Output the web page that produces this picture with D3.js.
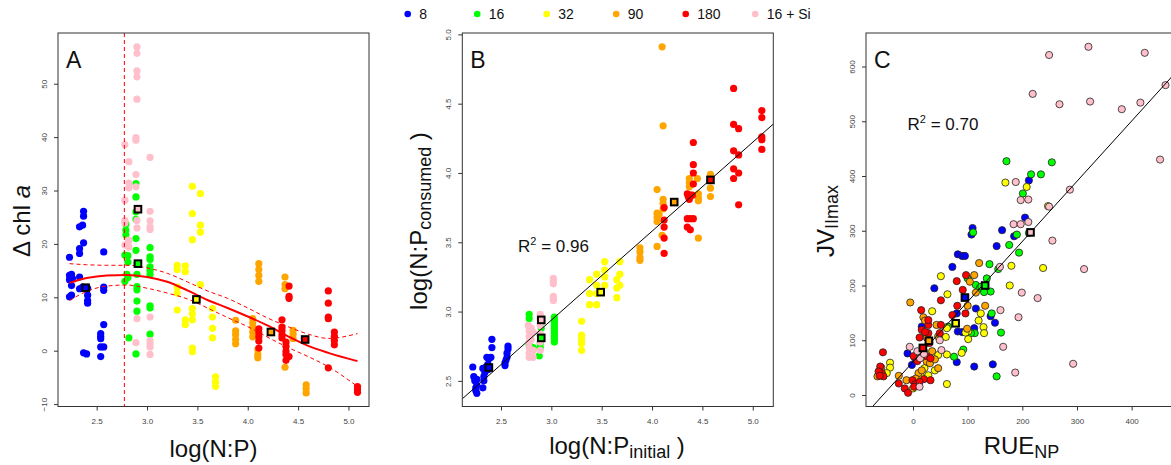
<!DOCTYPE html>
<meta charset="utf-8">
<style>
body { margin: 0; background: #fff; }
svg { font-family: "Liberation Sans", Arial, Helvetica, sans-serif; }
.tick text { fill: #444; font-size: 8px; }
.tick line { stroke: #333; }
</style>
<script src="https://d3js.org/d3.v7.min.js"></script>
<body>
<script>

var width = 1171,
    height = 465;

// treatments, in legend order
var groups = ["8", "16", "32", "90", "180", "16 + Si"];
var colors = ["#0000ff", "#00ff00", "#ffff00", "#ffa500", "#ff0000", "#ffc0cb"];

// ---- panel A : log(N:P) vs delta chl a
var aBlue = [[2.23,17.5],[2.23,14.1],[2.24,13.8],[2.25,14.3],[2.26,13.5],[2.23,13.3],[2.25,12.2],[2.23,10.1],[2.25,10.4],
  [2.33,23.2],[2.36,23.5],[2.37,26.1],[2.37,25.2],[2.37,20.2],[2.33,19.1],[2.33,18.2],[2.33,13.8],[2.33,11.6],[2.36,11.9],
  [2.41,11.7],[2.41,10.4],[2.41,9.4],[2.41,8.9],[2.37,-0.4],[2.40,-0.6],
  [2.57,18.5],[2.57,11.9],[2.57,11.3],[2.57,4.9],[2.54,3.2],[2.54,2.7],[2.54,2.25],[2.54,0.7],[2.57,0.7],[2.54,-1.1]];
var aGreen = [[2.79,23.7],[2.79,22.6],[2.79,21.7],[2.78,17.9],[2.81,17.8],[2.81,16.6],[2.78,13.0],[2.81,13.7],[2.80,14.3],[2.82,2.4],
  [2.89,31.3],[2.89,28.8],[2.89,26.0],[2.89,24.6],[2.89,21.0],[2.89,18.8],[2.90,16.3],[2.90,14.3],[2.90,12.0],[2.90,11.4],[2.90,9.3],[2.90,7.4],[2.89,-0.6],
  [3.03,19.3],[3.03,17.6],[3.03,17.1],[3.03,15.7],[3.03,15.0],[3.03,14.3],[3.03,8.4],[3.03,8.0],[3.03,3.1]];
var aYellow = [[3.30,16.0],[3.30,15.2],[3.30,11.9],[3.30,10.8],[3.30,7.6],
  [3.38,15.9],[3.38,14.8],[3.38,5.8],[3.38,4.9],
  [3.45,30.8],[3.45,25.7],[3.45,20.8],[3.45,7.9],[3.45,6.9],[3.45,5.8],[3.45,0.5],[3.45,-0.2],
  [3.53,29.4],[3.53,23.5],[3.53,22.2],[3.53,12.4],
  [3.65,7.9],[3.65,6.3],[3.65,4.2],[3.65,2.4],
  [3.68,-4.9],[3.68,-5.9],[3.68,-6.7]];
var aOrange = [[3.88,5.7],[3.88,3.7],[3.88,3.0],[3.88,2.1],[3.88,1.3],
  [4.05,6.0],[4.05,5.2],[4.05,4.4],[4.05,3.5],[4.05,2.6],
  [4.10,0.2],[4.10,-0.7],[4.10,-1.3],
  [4.11,16.3],[4.11,15.2],[4.11,14.1],[4.11,13.0],
  [4.37,13.8],[4.37,12.4],[4.37,11.6],[4.37,-3.1],
  [4.45,3.8],[4.45,3.1],[4.45,2.3],
  [4.58,-6.4],[4.58,-7.1],[4.58,-7.9]];
var aRed = [[4.11,4.1],[4.11,3.3],[4.11,2.6],[4.11,1.8],[4.11,0.5],
  [4.34,5.8],[4.34,4.4],[4.34,3.8],[4.34,3.0],[4.34,2.4],
  [4.38,1.6],[4.38,0.8],[4.38,-0.1],[4.38,-0.7],[4.38,-1.8],
  [4.41,12.1],[4.41,10.2],[4.41,9.8],[4.41,-1.1],
  [4.80,11.2],[4.80,8.9],[4.80,6.3],[4.80,6.0],[4.80,-3.2],
  [4.86,3.5],[4.86,2.7],[4.86,1.9],[4.86,1.1],
  [5.09,-6.7],[5.09,-7.3],[5.09,-7.8]];
var aPink = [[2.78,38.6],[2.78,28.2],[2.78,24.4],[2.78,23.9],[2.78,19.8],[2.82,35.4],[2.82,31.4],[2.82,30.5],[2.82,20.7],[2.82,19.4],[2.81,20.2],
  [2.90,56.9],[2.90,55.7],[2.90,52.4],[2.90,51.3],[2.90,47.1],[2.89,39.9],[2.89,39.4],[2.89,33.0],[2.89,30.7],[2.90,24.4],[2.90,23.0],[2.90,6.0],[2.89,1.5],
  [3.03,36.2],[3.03,26.1],[3.03,24.3],[3.03,23.2],[3.03,22.7],[3.03,6.3],[3.03,1.9],[3.03,1.3],[3.03,0.7],[3.03,-0.7]];
var aMeans = [[2.39,11.8],[2.91,16.3],[3.49,9.6],[4.23,3.5],[4.57,2.1],[2.91,26.5]];

// smoother and its bands
var aFitX = [2.23, 2.4, 2.6, 2.8, 3.0, 3.2, 3.4, 3.6, 3.8, 4.0, 4.2, 4.4, 4.6, 4.8, 5.09];
var aFit  = [12.7, 13.6, 14.1, 14.2, 13.8, 12.9, 11.3, 9.5, 8.0, 6.4, 4.7, 2.7, 0.9, -0.4, -1.95];
var aUpper = [16.3, 16.1, 16.0, 16.0, 15.5, 14.5, 12.9, 11.2, 9.8, 8.0, 6.1, 4.5, 3.1, 2.3, 3.2];
var aLower = [9.4, 11.1, 12.1, 12.3, 11.7, 10.8, 9.7, 8.0, 6.2, 4.5, 2.5, 0.6, -1.1, -3.0, -6.7];
var aThreshold = 2.775;

// ---- panel B : log(N:P initial) vs log(N:P consumed)
var bBlue = [[2.22,2.60],[2.23,2.53],[2.24,2.50],[2.25,2.45],[2.25,2.43],[2.26,2.41],[2.26,2.47],[2.26,2.51],
  [2.32,2.59],[2.33,2.53],[2.33,2.50],[2.32,2.45],[2.34,2.56],[2.35,2.60],[2.36,2.67],[2.37,2.62],[2.37,2.58],[2.38,2.66],[2.40,2.67],[2.41,2.74],[2.41,2.80],
  [2.54,2.61],[2.54,2.63],[2.55,2.65],[2.56,2.67],[2.56,2.70],[2.57,2.73],[2.57,2.75]];
var bGreen = [[2.78,2.98],[2.78,2.95],[2.78,2.76],[2.80,2.72],[2.80,2.70],[2.82,2.74],[2.88,2.68],[2.89,2.74],[2.89,2.77],[2.89,2.83],[2.90,2.88],[2.90,2.92],
  [3.03,2.96],[3.03,2.94],[3.03,2.92],[3.03,2.90],[3.03,2.88],[3.03,2.86],[3.03,2.84],[3.03,2.82],[3.03,2.80],[3.03,2.78]];
var bYellow = [[3.30,2.93],[3.30,2.83],[3.30,2.80],[3.30,2.77],[3.30,2.72],
  [3.38,3.23],[3.38,3.13],[3.38,3.05],
  [3.45,3.27],[3.45,3.19],[3.45,3.13],[3.45,3.05],
  [3.53,3.36],[3.53,3.30],[3.53,3.25],[3.53,3.19],
  [3.65,3.23],[3.65,3.17],[3.65,3.10],
  [3.68,3.36],[3.68,3.27],[3.68,3.19]];
var bOrange = [[3.88,3.46],[3.88,3.43],[3.88,3.39],[3.88,3.37],
  [4.05,3.88],[4.05,3.71],[4.05,3.68],[4.05,3.65],[4.05,3.47],[4.07,3.70],
  [4.10,4.91],[4.11,4.34],[4.11,3.81],[4.11,3.78],[4.11,3.74],[4.10,3.55],
  [4.37,3.96],[4.37,3.93],[4.37,3.90],
  [4.45,3.96],[4.46,3.85],[4.46,3.82],[4.46,3.80],[4.46,3.53],
  [4.58,3.99],[4.58,3.95],[4.58,3.89],[4.58,3.83]];
var bRed = [[4.41,4.22],[4.41,4.06],[4.41,4.00],[4.41,3.92],
  [4.35,3.85],[4.36,3.83],[4.38,3.84],[4.37,3.81],[4.40,3.84],
  [4.35,3.67],[4.41,3.67],[4.35,3.61],[4.38,3.59],[4.38,3.67],
  [4.12,3.75],[4.12,3.66],[4.12,3.61],[4.12,3.53],[4.12,3.42],
  [4.81,4.61],[4.81,4.35],[4.86,4.32],[4.81,4.16],[4.86,4.13],[4.81,4.03],[4.86,4.00],[4.81,3.96],[4.86,3.77],
  [5.09,4.45],[5.09,4.40],[5.09,4.26],[5.09,4.24],[5.09,4.17]];
var bPink = [[2.77,2.90],[2.78,2.86],[2.78,2.82],[2.78,2.78],[2.78,2.74],[2.78,2.70],[2.78,2.67],[2.80,2.88],[2.80,2.80],[2.82,2.72],[2.82,2.67],[2.82,2.85],
  [2.89,2.98],[2.89,2.95],[2.89,2.90],[2.89,2.84],[2.89,2.78],[2.89,2.72],
  [3.02,3.24],[3.02,3.22],[3.02,3.20],[3.02,3.11],[3.02,3.09],[3.02,3.08]];
var bMeans = [[2.38,2.596],[2.90,2.81],[3.49,3.14],[4.22,3.79],[4.58,3.95],[2.90,2.94]];
var bFit = [1.012, 0.642];   // intercept, slope
var bR2 = "0.96";

// ---- panel C : RUE_NP vs JV_IImax
var cBlue = [[212,392],[205,324],[109,305],[107,293],[163,301],[153,272],[185,290],[82,257],[90,254],[95,254],[72,234],[39,195],
  [115,158],[80,149],[82,116],[90,115],[112,122],[150,132],[142,144],[80,60],[112,52],[146,56],[-10,76],[-2,55],[4,67],[16,125]];
var cGreen = [[171,427],[254,425],[216,403],[234,403],[201,368],[110,297],[190,293],[212,296],[176,274],[194,260],[140,239],[156,230],
  [100,213],[115,201],[135,213],[122,195],[142,189],[144,149],[161,114],[113,113],[106,113],[92,83],[75,70],[153,34],[20,80],[10,66],[125,198],[130,188],[64,125]];
var cYellow = [[169,388],[208,380],[247,345],[180,236],[238,232],[177,200],[51,217],[63,184],[35,153],[124,149],[120,136],[129,124],[130,113],
  [101,116],[96,114],[101,102],[62,122],[89,77],[62,74],[62,20],[-42,59],[-42,50],[-48,40],[21,49],[0,12],[46,73],[60,106],[30,60],[40,45],[14,36],[28,36]];
var cOrange = [[121,241],[112,219],[104,207],[115,187],[132,163],[100,163],[99,121],[-5,169],[19,142],[22,136],[25,105],[43,128],[46,107],[30,99],
  [25,61],[46,49],[-26,35],[-12,27],[-65,34],[-60,42],[10,40],[5,30],[31,58],[20,75],[35,80],[40,65],[16,45],[-58,50]];
var cRed = [[-55,78],[-60,52],[-57,40],[-54,34],[-63,43],[-61,35],[-26,21],[-15,12],[-9,4],[-1,27],[5,20],[2,15],[20,29],[32,27],[12,24],
  [15,155],[16,119],[12,105],[28,128],[28,137],[28,113],[49,113],[51,128],[51,173],[80,208],[97,219],[91,192],[81,163],[72,146],[96,149],
  [1,71],[25,71],[32,67],[8,62],[30,95],[22,115]];
var cPink = [[249,621],[321,636],[424,625],[462,566],[219,550],[268,531],[324,536],[382,522],[416,534],[452,430],[287,375],[249,344],[255,282],
  [313,230],[293,57],[188,389],[197,356],[211,357],[211,316],[184,312],[197,312],[159,234],[199,187],[228,177],[193,142],[160,155],[165,88],[187,41],
  [-6,88],[12,15],[49,100],[52,82],[13,67],[20,75],[8,80]];
var cMeans = [[95,178],[132,200],[78,131],[29,99],[18,86],[215,297]];
var cFit = [60.4, 1.1];
var cR2 = "0.70";

var svg = d3.select("body").append("svg")
    .attr("width", width)
    .attr("height", height);

var boxTop = 33, boxBottom = 406.5;

function panel(id, left, right, xDomain, yDomain, xTicks, yTicks) {
  var x = d3.scaleLinear().domain(xDomain).range([left, right]);
  var y = d3.scaleLinear().domain(yDomain).range([boxBottom, boxTop]);

  svg.append("clipPath").attr("id", "clip" + id)
    .append("rect")
      .attr("x", left).attr("y", boxTop)
      .attr("width", right - left).attr("height", boxBottom - boxTop);

  svg.append("g")
      .attr("transform", "translate(0," + boxBottom + ")")
      .call(d3.axisBottom(x).tickValues(xTicks).tickSize(4).tickPadding(8).tickSizeOuter(0))
      .call(function(g) { g.select(".domain").remove(); });

  var ya = svg.append("g")
      .attr("transform", "translate(" + left + ",0)")
      .call(d3.axisLeft(y).tickValues(yTicks).tickSize(4).tickSizeOuter(0));
  ya.select(".domain").remove();
  ya.selectAll(".tick text")
      .attr("x", null).attr("dy", null)
      .attr("text-anchor", "middle")
      .attr("transform", "translate(-11.5,0) rotate(-90)");

  var g = svg.append("g").attr("clip-path", "url(#clip" + id + ")");

  svg.append("rect")
      .attr("x", left).attr("y", boxTop)
      .attr("width", right - left).attr("height", boxBottom - boxTop)
      .attr("fill", "none")
      .attr("stroke", "#333")
      .attr("stroke-width", 1);

  svg.append("text")
      .attr("x", left + 8).attr("y", 68)
      .attr("font-size", 23)
      .attr("fill", "#111")
      .text(id);

  return {g: g, x: x, y: y};
}

function dots(p, sets, r, outline) {
  sets.forEach(function(set) {
    p.g.selectAll(null)
      .data(set.pts)
      .enter().append("circle")
        .attr("cx", function(d) { return p.x(d[0]); })
        .attr("cy", function(d) { return p.y(d[1]); })
        .attr("r", r)
        .attr("fill", set.color)
        .attr("stroke", outline ? "#222" : "none")
        .attr("stroke-width", outline ? 0.8 : 0);
  });
}

function means(p, pts) {
  p.g.selectAll(null)
    .data(pts)
    .enter().append("rect")
      .attr("x", function(d) { return p.x(d[0]) - 3.3; })
      .attr("y", function(d) { return p.y(d[1]) - 3.3; })
      .attr("width", 6.6).attr("height", 6.6)
      .attr("fill", function(d, i) { return colors[i]; })
      .attr("stroke", "#000")
      .attr("stroke-width", 2);
}

function abline(p, fit) {
  var xs = p.x.domain();
  p.g.append("line")
      .attr("x1", p.x(xs[0])).attr("y1", p.y(fit[0] + fit[1] * xs[0]))
      .attr("x2", p.x(xs[1])).attr("y2", p.y(fit[0] + fit[1] * xs[1]))
      .attr("stroke", "#000")
      .attr("stroke-width", 1);
}

function r2(x, y, val) {
  var t = svg.append("text")
      .attr("x", x).attr("y", y)
      .attr("font-size", 17)
      .attr("fill", "#111");
  t.append("tspan").text("R");
  t.append("tspan").attr("font-size", 11).attr("dy", -7).text("2");
  t.append("tspan").attr("dy", 7).text(" = " + val);
}

function bySet(list) {
  return list.map(function(pts, i) { return {pts: pts, color: colors[i]}; });
}

// ---- A
var pA = panel("A", 58, 369, [2.116, 5.204], [-10.45, 59.5],
  [2.5, 3.0, 3.5, 4.0, 4.5, 5.0], [-10, 0, 10, 20, 30, 40, 50]);
var lineA = function(ys) {
  return d3.line()
    .x(function(d, i) { return pA.x(aFitX[i]); })
    .y(function(d) { return pA.y(d); })
    .curve(d3.curveMonotoneX)(ys);
};
dots(pA, bySet([aBlue, aGreen, aYellow, aOrange, aRed, aPink]), 3.6, false);
pA.g.append("line")
    .attr("x1", pA.x(aThreshold)).attr("x2", pA.x(aThreshold))
    .attr("y1", boxTop).attr("y2", boxBottom)
    .attr("stroke", "#ff0000").attr("stroke-width", 1).attr("stroke-dasharray", "4,3");
[aUpper, aLower].forEach(function(band) {
  pA.g.append("path").attr("d", lineA(band))
    .attr("fill", "none").attr("stroke", "#ff0000")
    .attr("stroke-width", 1).attr("stroke-dasharray", "4,3");
});
pA.g.append("path").attr("d", lineA(aFit))
    .attr("fill", "none").attr("stroke", "#ff0000").attr("stroke-width", 2);
means(pA, aMeans);

// ---- B
var pB = panel("B", 462.3, 773.3, [2.116, 5.204], [2.315, 5.01],
  [2.5, 3.0, 3.5, 4.0, 4.5, 5.0], [2.5, 3.0, 3.5, 4.0, 4.5, 5.0]);
dots(pB, bySet([bBlue, bGreen, bYellow, bOrange, bRed, bPink]), 3.6, false);
abline(pB, bFit);
means(pB, bMeans);
r2(518, 252, bR2);

// ---- C
var pC = panel("C", 866, 1177, [-86, 483], [-21, 661.2],
  [0, 100, 200, 300, 400], [0, 100, 200, 300, 400, 500, 600]);
dots(pC, bySet([cBlue, cGreen, cYellow, cOrange, cRed, cPink]), 3.6, true);
abline(pC, cFit);
means(pC, cMeans);
r2(907.5, 129.5, cR2);

// ---- axis titles
function title(x, y, rotate, main, sub, tail, italic) {
  var t = svg.append("text")
      .attr("transform", "translate(" + x + "," + y + ")" + (rotate ? " rotate(-90)" : ""))
      .attr("text-anchor", "middle")
      .attr("font-size", 24)
      .attr("fill", "#111");
  t.append("tspan").text(main);
  if (italic) t.append("tspan").attr("font-style", "italic").text(italic);
  if (sub) t.append("tspan").attr("font-size", 18).attr("dy", 4).text(sub);
  if (tail) t.append("tspan").attr("dy", -4).text(tail);
}
title(213.5, 456.5, false, "log(N:P)");
title(29.5, 221, true, "\u0394 chl ", null, null, "a");
title(617, 454, false, "log(N:P", "initial", " )");
title(427, 221, true, "log(N:P", "consumed", " )");
title(1021.5, 453.5, false, "RUE", "NP");
title(834, 221, true, "JV", "IImax");

// ---- legend
var legend = svg.append("g").selectAll("g")
  .data(groups)
  .enter().append("g")
    .attr("transform", function(d, i) { return "translate(" + (407.7 + i * 69.5) + ",14)"; });
legend.append("circle")
    .attr("r", 3.3)
    .attr("fill", function(d, i) { return colors[i]; });
legend.append("text")
    .attr("x", 11.5).attr("dy", "0.36em")
    .attr("font-size", 14)
    .attr("fill", "#111")
    .text(function(d) { return d; });

</script>
